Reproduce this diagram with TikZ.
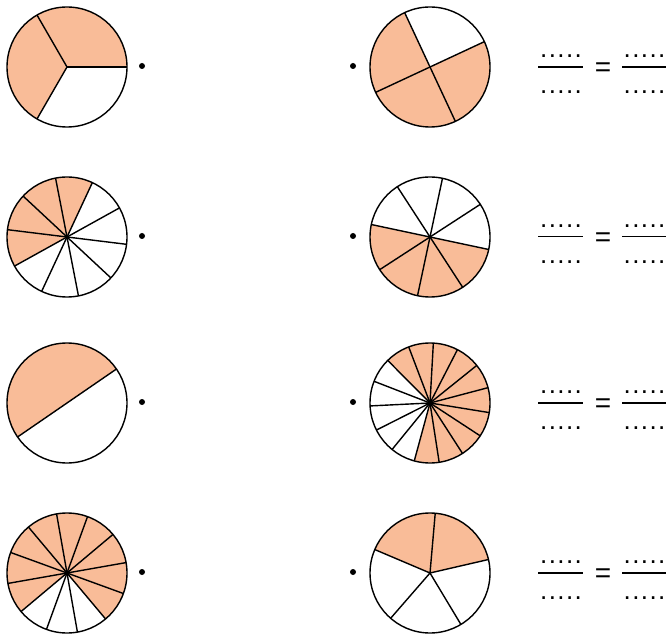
\documentclass[tikz,border=0pt]{standalone}
\usepackage{fontspec}
\setmainfont{Liberation Sans}
\definecolor{piefill}{RGB}{249,188,152}
\tikzset{
  pie edge/.style={line width=1.4pt, line join=round},
  fracbar/.style={line width=1.6pt},
  blank/.style={inner sep=0pt, font=\fontsize{26}{30}\selectfont},
  eqsign/.style={inner sep=0pt, font=\fontsize{28}{32}\selectfont},
}
\newcommand\blankdots{.\kern1.4pt.\kern1.4pt.\kern1.4pt.\kern1.4pt.}
\begin{document}
\begin{tikzpicture}[x=1pt, y=1pt]
  \useasboundingbox (0,0) rectangle (666,635);
  % pies: centre / slices / start of filled part / filled slices
  \foreach \cx/\cy/\n/\s/\k [count=\i] in {67/568/3/0/2, 430/568/4/115/3,
      67/398/10/65/4, 430/398/8/168/4, 67/232/2/34.5/1, 430/232/15/-105.2/10,
      67/62/12/-50/9, 430/62/5/13/2}{
    \coordinate (pie\i) at (\cx,\cy);
    \pgfmathsetmacro\slice{360/\n}
    \pgfmathsetmacro\fillend{\s+\k*\slice}
    \fill[piefill] (pie\i) -- ++(\s:60pt) arc[start angle=\s, end angle=\fillend, radius=60pt] -- cycle;
    \foreach \j in {1,...,\n}
      \draw[pie edge] (pie\i) -- ++({\s+\j*\slice}:60pt);
    \draw[pie edge] (pie\i) circle[radius=60pt];
  }
  % bullets
  \foreach \i in {1,3,5,7}
    \fill (pie\i) ++(75,1) circle[radius=3pt];
  \foreach \i in {2,4,6,8}
    \fill (pie\i) ++(-77,1) circle[radius=3pt];
  % fractions to fill in
  \foreach \y in {568,398.3,232,62.3}{
    \draw[fracbar] (538,\y) -- (583,\y);
    \draw[fracbar] (622,\y) -- (666,\y);
    \node[blank] at (561,\y+10.7) {\blankdots};
    \node[blank] at (561,\y-25.5) {\blankdots};
    \node[blank] at (644.5,\y+10.7) {\blankdots};
    \node[blank] at (644.5,\y-25.5) {\blankdots};
    \node[eqsign] at (603,\y-3) {=};
  }
\end{tikzpicture}
\end{document}
